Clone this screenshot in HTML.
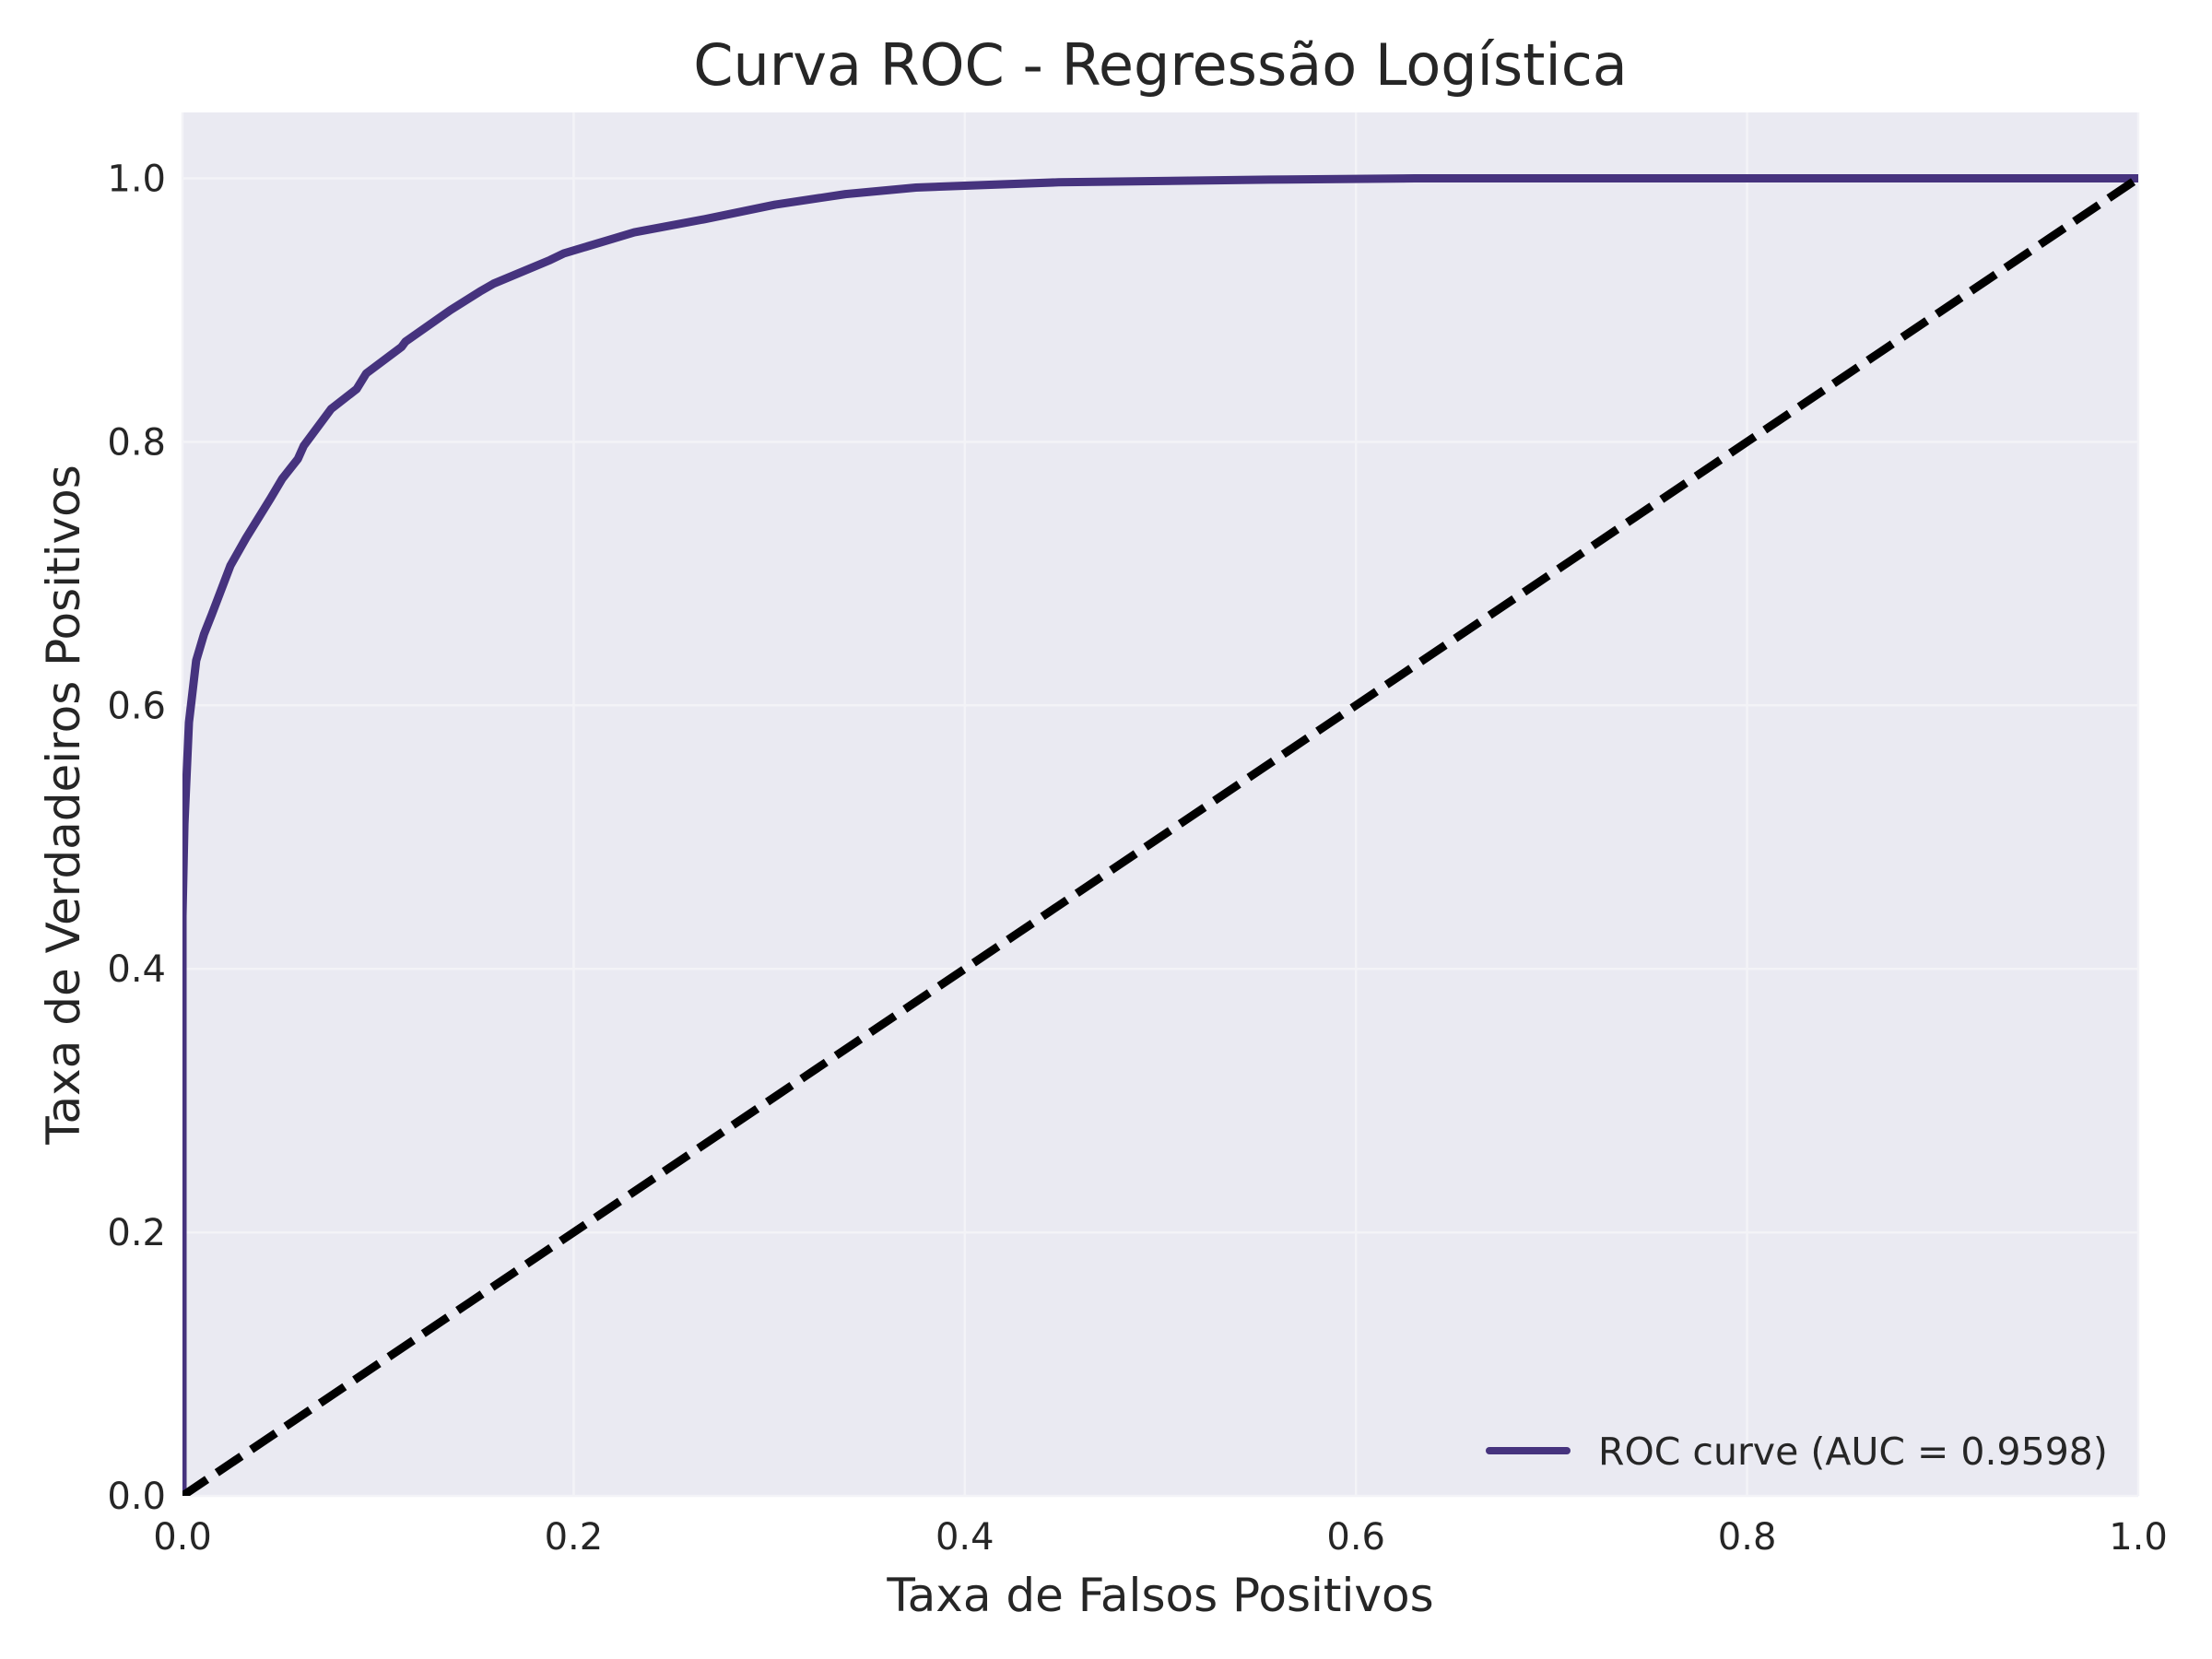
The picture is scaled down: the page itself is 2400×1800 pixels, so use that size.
<!DOCTYPE html>
<html><head><meta charset="utf-8"><style>
html,body{margin:0;padding:0;background:#fff;}
svg{display:block;font-family:"DejaVu Sans","Liberation Sans",sans-serif;}
</style></head><body>
<svg id="chart" width="2400" height="1800" viewBox="0 0 2400 1800" xmlns="http://www.w3.org/2000/svg">
<rect width="2400" height="1800" fill="#ffffff"/>
<rect x="198" y="122" width="2122" height="1501" fill="#eaeaf2"/>
<g id="grid"></g>
<g id="series"></g>
<g id="ticks"></g>
<text x="1259" y="92" text-anchor="middle" font-size="62" fill="#262626">Curva ROC - Regressão Logística</text>
<text x="1259" y="1748" text-anchor="middle" font-size="50" fill="#262626">Taxa de Falsos Positivos</text>
<text transform="translate(86,873) rotate(-90)" text-anchor="middle" font-size="50" fill="#262626">Taxa de Verdadeiros Positivos</text>
<g>
<line x1="1616" y1="1574" x2="1700" y2="1574" stroke="#46337e" stroke-width="8" stroke-linecap="round"/>
<text x="1734" y="1589" font-size="41" fill="#262626">ROC curve (AUC = 0.9598)</text>
</g>
</svg>
<script>
const xTicks = [0, 0.2, 0.4, 0.6, 0.8, 1.0];
const yTicks = [0, 0.2, 0.4, 0.6, 0.8, 1.0];
const xTickLabels = ["0.0","0.2","0.4","0.6","0.8","1.0"];
const yTickLabels = ["0.0","0.2","0.4","0.6","0.8","1.0"];
const fpr = [0,0,0.001,0.0033,0.007,0.011,0.015,0.0245,0.0325,0.045,0.051,0.059,0.062,0.076,0.089,0.094,0.112,0.114,0.137,0.152,0.159,0.188,0.195,0.231,0.267,0.303,0.339,0.375,0.448,0.556,0.63,1.0];
const tpr = [0,0.44,0.51,0.587,0.634,0.654,0.669,0.706,0.727,0.757,0.772,0.787,0.797,0.825,0.840,0.852,0.872,0.876,0.900,0.914,0.920,0.938,0.943,0.959,0.969,0.980,0.988,0.993,0.997,0.999,1.0,1.0];
const diagX = [0, 1];
const diagY = [0, 1];

const X0=198, X1=2320, Y0=1623, Y1=122, YMAX=1.05;
function sx(v){return X0+v*(X1-X0);}
function sy(v){return Y0-v/YMAX*(Y0-Y1);}
const NS="http://www.w3.org/2000/svg";
const grid=document.getElementById('grid'), series=document.getElementById('series'), ticks=document.getElementById('ticks');
function mk(tag,attrs,parent){const e=document.createElementNS(NS,tag);for(const k in attrs)e.setAttribute(k,attrs[k]);parent.appendChild(e);return e;}
xTicks.forEach((t,i)=>{
  const l=mk('line',{x1:sx(t),x2:sx(t),y1:Y1,y2:Y0,stroke:'#f3f3f7','stroke-width':2.5},grid);
  
  
  const tx=mk('text',{x:sx(t),y:1681,'text-anchor':'middle','font-size':40,fill:'#262626'},ticks);
  tx.textContent=xTickLabels[i];
  
  
});
yTicks.forEach((t,i)=>{
  const l=mk('line',{x1:X0,x2:X1,y1:sy(t),y2:sy(t),stroke:'#f3f3f7','stroke-width':2.5},grid);
  
  
  const tx=mk('text',{x:180,y:sy(t)+14,'text-anchor':'end','font-size':40,fill:'#262626'},ticks);
  tx.textContent=yTickLabels[i];
  
  
});
const cp=document.createElementNS(NS,'clipPath');cp.setAttribute('id','clip');
mk('rect',{x:X0,y:Y1,width:X1-X0,height:Y0-Y1},cp);document.getElementById('chart').appendChild(cp);
series.setAttribute('clip-path','url(#clip)');
const roc=mk('polyline',{points:fpr.map((v,i)=>sx(v)+','+sy(tpr[i])).join(' '),fill:'none',stroke:'#46337e','stroke-width':9,'stroke-linejoin':'round'},series);


const d=mk('polyline',{points:diagX.map((v,i)=>sx(v)+','+sy(diagY[i])).join(' '),fill:'none',stroke:'#000000','stroke-width':9,'stroke-dasharray':'32 13'},series);


</script>
</body></html>
